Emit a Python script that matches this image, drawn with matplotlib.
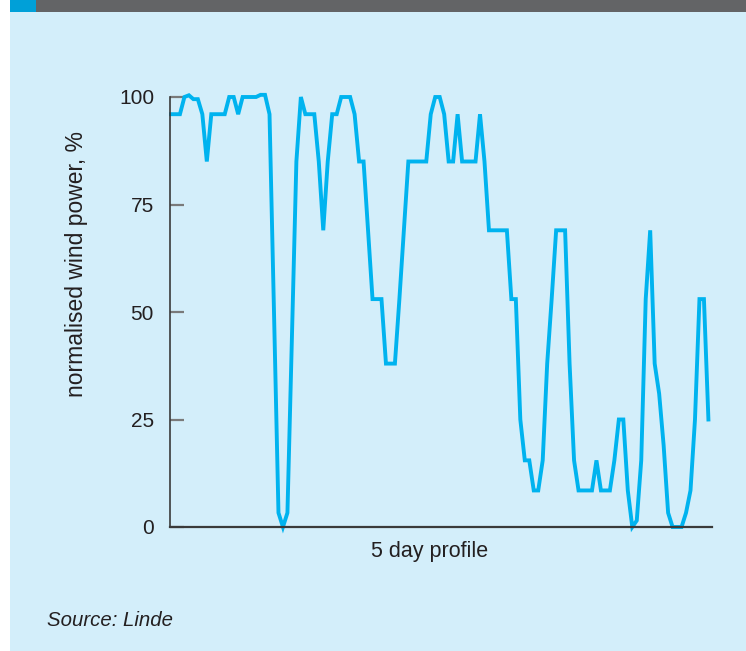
import numpy as np
import matplotlib
matplotlib.use("Agg")
import matplotlib.pyplot as plt
from matplotlib.patches import Rectangle

# hourly normalised wind power over 5 days
power = [
    96, 96, 96, 100, 100.4, 99.5, 99.5, 96, 85, 96,
    96, 96, 96, 100, 100, 96, 100, 100, 100, 100,
    100.5, 100.5, 96, 50, 3.3, 0, 3.3, 44, 85, 100,
    96, 96, 96, 85, 69, 85, 96, 96, 100, 100,
    100, 96, 85, 85, 69, 53, 53, 53, 38, 38,
    38, 53, 69, 85, 85, 85, 85, 85, 96, 100,
    100, 96, 85, 85, 96, 85, 85, 85, 85, 96,
    85, 69, 69, 69, 69, 69, 53, 53, 25, 15.5,
    15.5, 8.5, 8.5, 15.5, 38, 53, 69, 69, 69, 38,
    15.5, 8.5, 8.5, 8.5, 8.5, 15.5, 8.5, 8.5, 8.5, 15.5,
    25, 25, 8.5, 0, 1.5, 15.5, 53, 69, 38, 31,
    19, 3.3, 0, 0, 0, 3.3, 8.5, 25, 53, 53,
    25,
]
hours = np.arange(len(power))
y_ticks = [0, 25, 50, 75, 100]

BG = "#d3eefa"
LINE = "#00b3ef"
TEXT = "#231f20"

plt.rcParams["font.family"] = ["Liberation Sans Narrow", "Liberation Sans", "DejaVu Sans"]

fig = plt.figure(figsize=(7.46, 6.51), dpi=100, facecolor="white")

# light blue panel, grey header band and blue marker square
fig.patches.append(Rectangle((10 / 746, 0), 736 / 746, 639 / 651, transform=fig.transFigure,
                             facecolor=BG, edgecolor="none", zorder=-5))
fig.patches.append(Rectangle((36 / 746, 639 / 651), 710 / 746, 12 / 651, transform=fig.transFigure,
                             facecolor="#636466", edgecolor="none", zorder=-5))
fig.patches.append(Rectangle((10 / 746, 639 / 651), 26 / 746, 12 / 651, transform=fig.transFigure,
                             facecolor="#00a0d8", edgecolor="none", zorder=-5))

ax = fig.add_axes([170 / 746, 1 - 527 / 651, 542 / 746, 430 / 651])
ax.set_zorder(2)
ax.set_facecolor("none")
ax.plot(hours, power, color=LINE, lw=2.8, clip_on=False, solid_joinstyle="miter")

ax.set_xlim(-0.22, 120.8)
ax.set_ylim(0, 100)
ax.set_yticks(y_ticks)
ax.set_yticklabels([str(t) for t in y_ticks])
ax.set_xticks([])
ax.tick_params(axis="y", direction="in", length=10, width=1.6, color="#7a7a7a",
               pad=11.5, labelsize=15, labelcolor=TEXT)

for side in ["top", "right"]:
    ax.spines[side].set_visible(False)
ax.spines["left"].set_color("#3a3a3a")
ax.spines["bottom"].set_color("#3a3a3a")
ax.spines["left"].set_linewidth(1.2)
ax.spines["bottom"].set_linewidth(1.6)

ax.set_ylabel("normalised wind power, %", fontsize=16.5, color=TEXT)
ax.yaxis.set_label_coords((88 - 170) / 542, (527 - 264) / 430)
ax.set_xlabel("5 day profile", fontsize=15.5, color=TEXT)
ax.xaxis.set_label_coords((430 - 170) / 542, -(541 - 527) / 430)

fig.text(47 / 746, 1 - 621 / 651, "Source: Linde", fontsize=14.7, style="italic",
         color=TEXT, va="center", ha="left")

fig.savefig("out.png", dpi=100, facecolor=fig.get_facecolor())
